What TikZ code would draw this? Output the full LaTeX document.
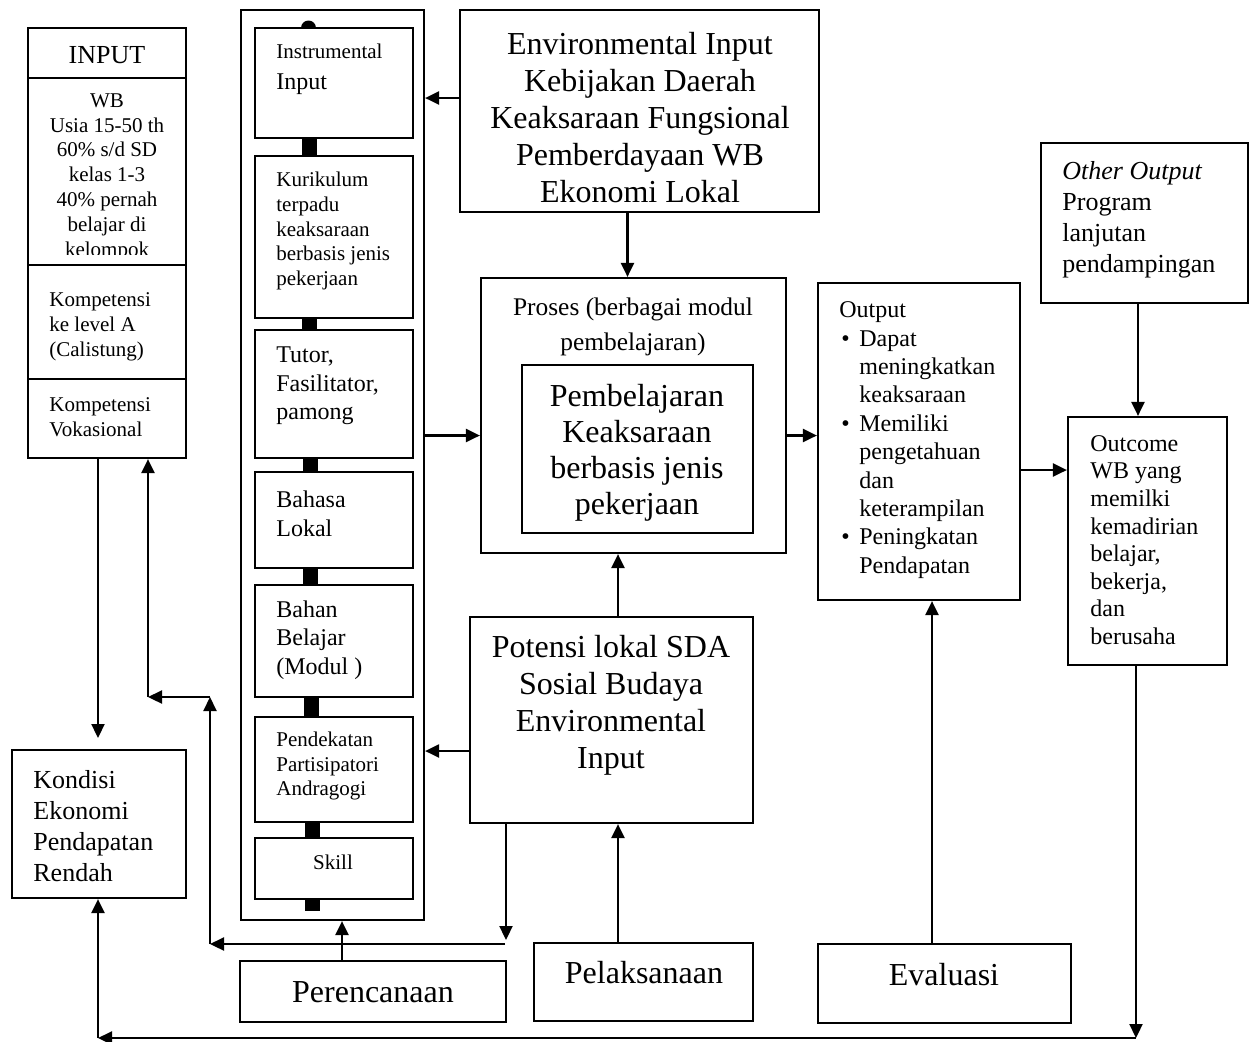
\documentclass[tikz,border=0pt]{standalone}
\usepackage{fontspec}
\setmainfont{Liberation Serif}
\usetikzlibrary{arrows.meta,fit}

\tikzset{
box/.style={draw, line width=1.1pt, inner sep=0pt},
arr/.style={line width=1.1pt, -{Triangle[length=7pt,width=6.5pt]}},
big/.style={font=\fontsize{16}{18.5}\selectfont, align=center, inner sep=0pt},
mid/.style={font=\fontsize{13}{15.5}\selectfont, align=left, inner sep=0pt, anchor=west},
med/.style={font=\fontsize{12}{14.3}\selectfont, align=left, inner sep=0pt, anchor=west},
sml/.style={font=\fontsize{10.5}{12.4}\selectfont, align=left, inner sep=0pt, anchor=west}
}

\begin{document}
\begin{tikzpicture}[x=0.5pt, y=-0.5pt]
\useasboundingbox (0,0) rectangle (1255,1041);

% INPUT
\node[box, fit={(28,28) (186,78)}] (inphead) {};
\node[box, fit={(28,78) (186,265)}] (inpwb) {};
\node[box, fit={(28,265) (186,379)}] (inpa) {};
\node[box, fit={(28,379) (186,458)}] (inpv) {};
\node[mid, anchor=center] (inptxt) at (107,55) {INPUT};
\begin{scope}
\clip (28,78) rectangle (186,254);
\node[sml, align=center, anchor=center] (wbtxt) at (107,177)
{WB\\Usia 15-50 th\\60\% s/d SD\\kelas 1-3\\40\% pernah\\belajar di\\kelompok};
\end{scope}
\node[sml] (atxt) at (49,327) {Kompetensi\\ke level A\\(Calistung)};
\node[sml] (vtxt) at (49,417) {Kompetensi\\Vokasional};

% Instrumental input column
\node[box, fit={(241,10) (424,920)}] (col) {};
\node[box, fit={(255,28) (413,138)}] (c1) {};
\node[box, fit={(255,156) (413,318)}] (c2) {};
\node[box, fit={(255,330) (413,458)}] (c3) {};
\node[box, fit={(255,472) (413,568)}] (c4) {};
\node[box, fit={(255,585) (413,697)}] (c5) {};
\node[box, fit={(255,717) (413,822)}] (c6) {};
\node[box, fit={(255,838) (413,899)}] (c7) {};
\foreach \ya/\yb/\xa in {138/156/302, 318/330/302, 458/472/303, 568/585/303,
                         697/717/304, 822/838/305, 899/911/305}
  \fill (\xa,\ya) rectangle ({\xa+15},\yb);
\fill (301,28) arc[start angle=180, end angle=360, radius=7.5];

\node[sml] (c1txt) at (276,69) {Instrumental\\[3pt]{\fontsize{12}{14.3}\selectfont Input}};
\node[sml] (c2txt) at (276,231) {Kurikulum\\terpadu\\keaksaraan\\berbasis jenis\\pekerjaan};
\node[med] (c3txt) at (276,386) {Tutor,\\Fasilitator,\\pamong};
\node[med] (c4txt) at (276,514) {Bahasa\\Lokal};
\node[med] (c5txt) at (276,640) {Bahan\\Belajar\\(Modul )};
\node[sml] (c6txt) at (276,766) {Pendekatan\\Partisipatori\\Andragogi};
\node[sml, anchor=center] (c7txt) at (333,862) {Skill};

% Environmental input
\node[box, fit={(460,10) (819,212)}] (env) {};
\node[big] (envtxt) at (640,118)
{Environmental Input\\Kebijakan Daerah\\Keaksaraan Fungsional\\Pemberdayaan WB\\Ekonomi Lokal};

% Proses
\node[box, fit={(481,278) (786,553)}] (pros) {};
\node[big, font=\fontsize{12.7}{17.5}\selectfont] (prostxt) at (633,327)
{Proses (berbagai modul\\pembelajaran)};
\node[box, fit={(522,365) (753,533)}] (belajar) {};
\node[big, font=\fontsize{16}{18}\selectfont] (belajartxt) at (637,453)
{Pembelajaran\\Keaksaraan\\berbasis jenis\\pekerjaan};

% Potensi lokal
\node[box, fit={(470,617) (753,823)}] (pot) {};
\node[big] (pottxt) at (611,705)
{Potensi lokal SDA\\Sosial Budaya\\Environmental\\Input};

% Output
\node[box, fit={(818,283) (1020,600)}] (outp) {};
\node[med, font=\fontsize{12}{14.2}\selectfont] (outptxt) at (839,440)
{Output\\
\makebox[10pt][l]{\hspace{1pt}\textbullet}Dapat\\
\hspace*{10pt}meningkatkan\\
\hspace*{10pt}keaksaraan\\
\makebox[10pt][l]{\hspace{1pt}\textbullet}Memiliki\\
\hspace*{10pt}pengetahuan\\
\hspace*{10pt}dan\\
\hspace*{10pt}keterampilan\\
\makebox[10pt][l]{\hspace{1pt}\textbullet}Peningkatan\\
\hspace*{10pt}Pendapatan};

% Other output and outcome
\node[box, fit={(1041,143) (1248,303)}] (oth) {};
\node[mid] (othtxt) at (1062,220)
{\textit{Other Output}\\Program\\lanjutan\\pendampingan};
\node[box, fit={(1068,417) (1227,665)}] (outc) {};
\node[med, font=\fontsize{12}{13.8}\selectfont] (outctxt) at (1090,540)
{Outcome\\WB yang\\memilki\\kemadirian\\belajar,\\bekerja,\\dan\\berusaha};

% Kondisi
\node[box, fit={(12,750) (186,898)}] (kon) {};
\node[mid] (kontxt) at (33,826) {Kondisi\\Ekonomi\\Pendapatan\\Rendah};

% Bottom row
\node[box, fit={(240,961) (506,1022)}] (pcn) {};
\node[big] (pcntxt) at (373,992) {Perencanaan};
\node[box, fit={(534,943) (753,1021)}] (pel) {};
\node[big] (peltxt) at (644,973) {Pelaksanaan};
\node[box, fit={(818,944) (1071,1023)}] (eva) {};
\node[big] (evatxt) at (944,975) {Evaluasi};

% Arrows
\coordinate (j1) at (506,940);
\coordinate (j2) at (505,944);
\coordinate (j3) at (210,944);
\coordinate (j4) at (210,697);
\coordinate (j5) at (148,697);
\coordinate (j6) at (98,738);
\coordinate (j7) at (1136,1038);
\coordinate (j8) at (98,1038);

\draw[arr] ([yshift=6.5pt]env.west) -- ([yshift=6.5pt]env.west -| col.east);
\draw[arr] ([xshift=-6pt]env.south) -- ([xshift=-6pt]env.south |- pros.north);
\draw[arr] ([yshift=-10pt]pros.west -| col.east) -- ([yshift=-10pt]pros.west);
\draw[arr] ([yshift=-10pt]pros.east) -- ([yshift=-10pt]pros.east -| outp.west);
\draw[arr] ([xshift=3.25pt]pot.north) -- ([xshift=3.25pt]pot.north |- pros.south);
\draw[arr] ([yshift=-15.5pt]pot.west) -- ([yshift=-15.5pt]pot.west -| col.east);
\draw[arr] (pot.south -| j1) -- (j1);
\draw[arr] (j2) -- (j3);
\draw[arr] (j3) -- (j4);
\draw[arr] (j4) -- (j5);
\draw[arr] (j5) -- (j5 |- inpv.south);
\draw[arr] (inpv.south -| j6) -- (j6);
\draw[arr] ([xshift=-15.5pt]pcn.north) -- ([xshift=-15.5pt]pcn.north |- col.south);
\draw[arr] ([xshift=3.25pt]pot.south |- pel.north) -- ([xshift=3.25pt]pot.south);
\draw[arr] ([xshift=-6.25pt]eva.north) -- ([xshift=-6.25pt]eva.north |- outp.south);
\draw[arr] ([yshift=-14.25pt]outp.east) -- ([yshift=-14.25pt]outp.east -| outc.west);
\draw[arr] ([xshift=-3.25pt]oth.south) -- ([xshift=-3.25pt]oth.south |- outc.north);
\draw[arr] (outc.south -| j7) -- (j7);
\draw[arr] (j7) -- (j8);
\draw[arr] (j8) -- (j8 |- kon.south);

\end{tikzpicture}
\end{document}
